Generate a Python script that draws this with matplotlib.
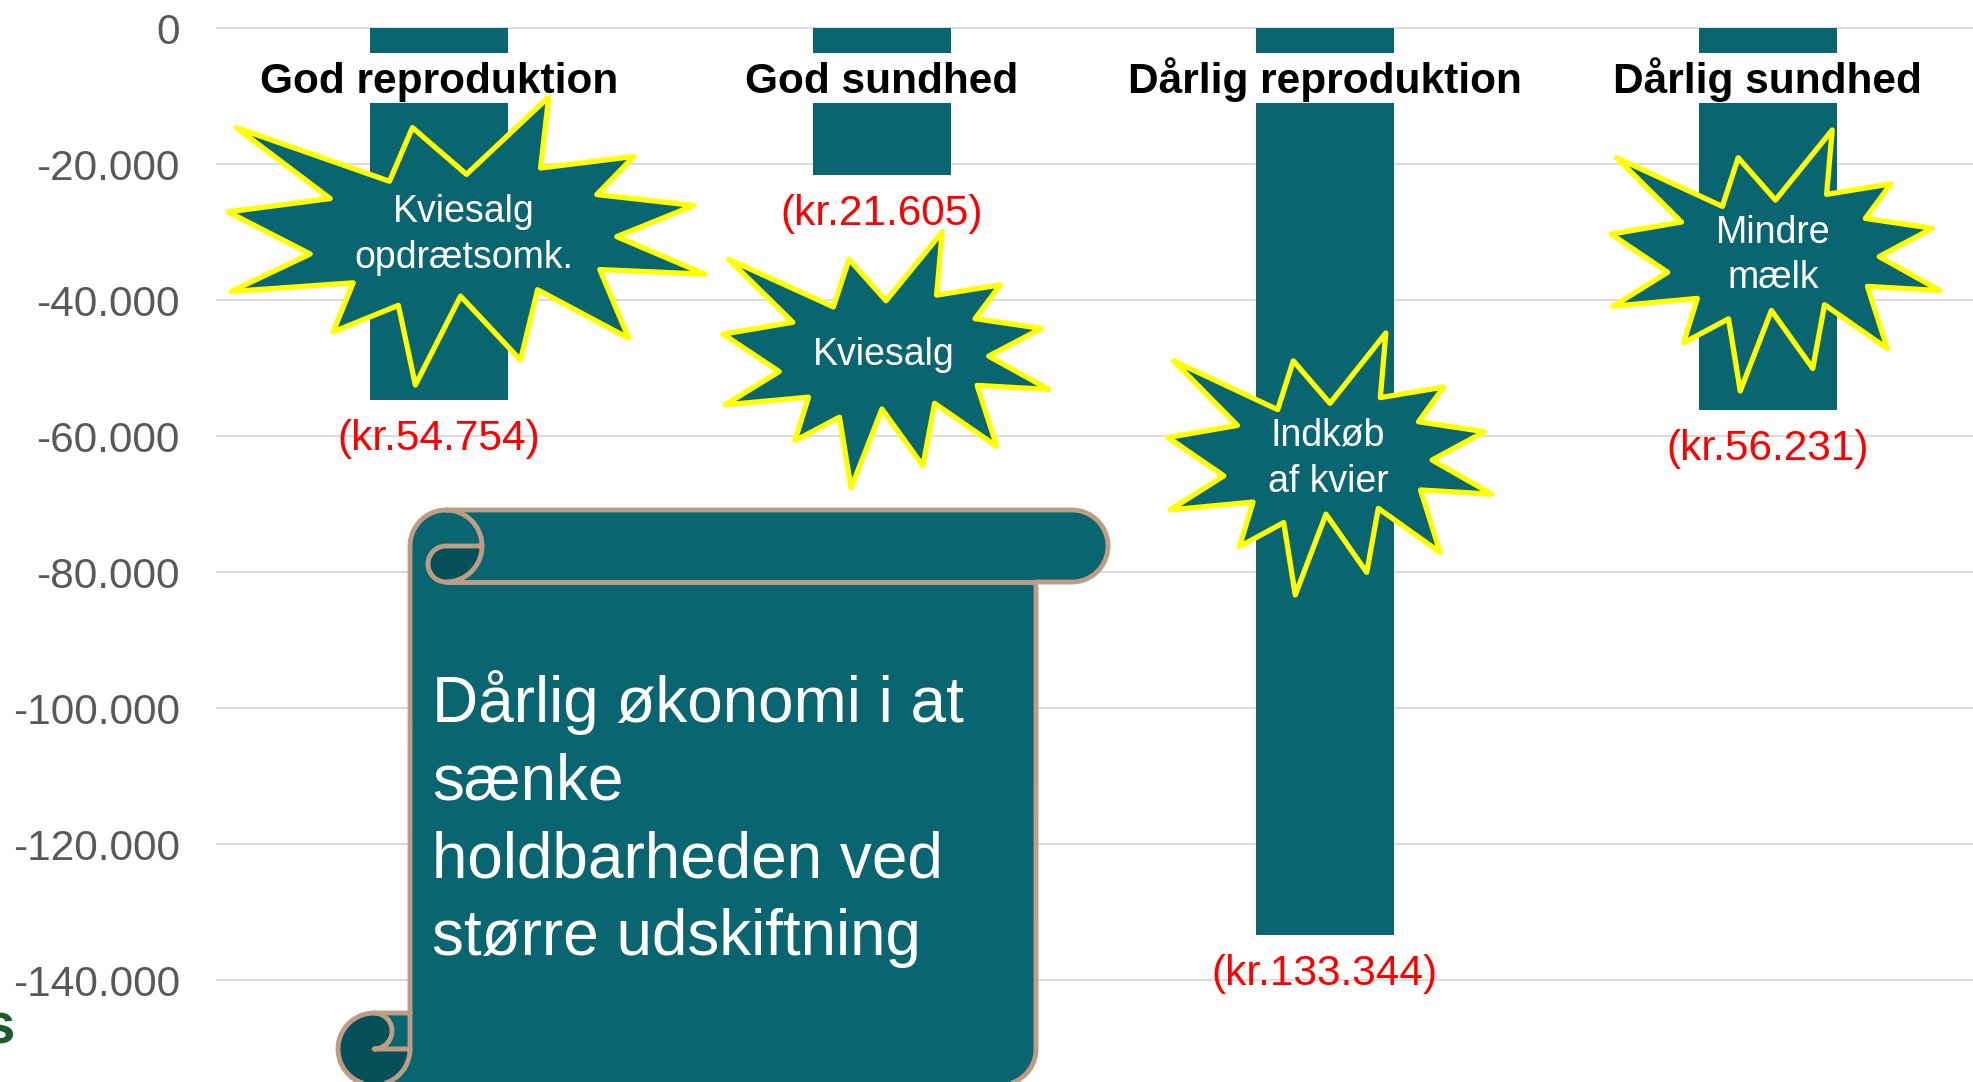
import matplotlib.pyplot as plt
import numpy as np
from matplotlib.patches import Polygon

plt.rcParams['font.family'] = ['Liberation Sans', 'DejaVu Sans']

# --- data ---
kategorier = ["God reproduktion", "God sundhed", "Dårlig reproduktion", "Dårlig sundhed"]
vaerdier = [-54754, -21605, -133344, -56231]
etiketter = ["(kr.54.754)", "(kr.21.605)", "(kr.133.344)", "(kr.56.231)"]
y_ticks = [0, -20000, -40000, -60000, -80000, -100000, -120000, -140000]
y_labels = ["0", "-20.000", "-40.000", "-60.000", "-80.000", "-100.000", "-120.000", "-140.000"]
stjerne_tekst = ["Kviesalg\nopdrætsomk.", "Kviesalg", "Indkøb\naf kvier", "Mindre\nmælk"]
rulle_tekst = "Dårlig økonomi i at\nsænke\nholdbarheden ved\nstørre udskiftning"

TEAL = '#096570'
DARK = '#065059'
TAN = '#BF9D84'

W, H = 1973, 1082
fig = plt.figure(figsize=(W / 100, H / 100), dpi=100)

# === hovedgraf ===
ax = fig.add_axes([216 / W, 0, 1 - 216 / W, 1])
x = np.arange(len(kategorier))
ax.bar(x, vaerdier, width=0.31, color=TEAL, zorder=2)
ax.set_xlim(-0.503, 3.463)
ax.set_ylim(-155000, 4118)
ax.set_yticks(y_ticks)
ax.set_yticklabels(y_labels, fontsize=30.5, color='#595959')
ax.tick_params(axis='y', length=0, pad=26)
ax.set_xticks([])
ax.grid(axis='y', color='#D9D9D9', lw=1.3)
ax.set_axisbelow(True)
for s in ax.spines.values():
    s.set_visible(False)

# hvidt bånd bag kategorinavnene
ax.axhspan(-11029, -3676, color='white', lw=0, zorder=2.5)
for i, kat in enumerate(kategorier):
    ax.text(i, -9559, kat, ha='center', va='baseline', fontsize=30.5, fontweight='bold', zorder=3)

for i, (v, lbl) in enumerate(zip(vaerdier, etiketter)):
    ax.annotate(lbl, (i, v), xytext=(0, -39), textcoords='offset pixels',
                ha='center', va='center', color='red', fontsize=30.5)

# === figurer oven på (pixel-koordinater) ===
ov = fig.add_axes([0, 0, 1, 1], zorder=5)
ov.set_xlim(0, W)
ov.set_ylim(H, 0)
ov.patch.set_visible(False)
ov.axis('off')


def arc(cx, cy, r, a0, a1, n=40):
    a = np.radians(np.linspace(a0, a1, n))
    return np.column_stack([cx + r * np.cos(a), cy + r * np.sin(a)])


# eksplosion (PowerPoint "irregularSeal1")
SEAL = np.array([[10800, 5800], [14522, 0], [14155, 5325], [18380, 4457], [16702, 7315],
                 [21097, 8137], [17607, 10475], [21600, 13290], [16837, 12942], [18145, 18095],
                 [14020, 14457], [13247, 19737], [10532, 14935], [8485, 21600], [7715, 15627],
                 [4762, 17617], [5667, 13937], [135, 14587], [3722, 11775], [0, 8615],
                 [4627, 7617], [370, 2295], [7312, 6320], [8352, 2295]]) / 21600.0

stjerne_box = [(228, 97, 477, 288), (723, 232, 326, 256), (1168, 333, 324, 262), (1611, 130, 329, 261)]
for (x0, y0, w, h), txt in zip(stjerne_box, stjerne_tekst):
    pts = SEAL * [w, h] + [x0, y0]
    ov.add_patch(Polygon(pts, closed=True, fc=TEAL, ec='#FFFF00', lw=3.8, joinstyle='round', zorder=3))
    ov.text(x0 + 0.494 * w, y0 + 0.469 * h + 3, txt, ha='center', va='center', color='white',
            fontsize=27, linespacing=1.35, zorder=4)

# rulle (PowerPoint "verticalScroll")
sx, sy, sw, sh = 338, 510, 770, 575
ch = 72
ch2, ch4 = ch / 2, ch / 4
x3, x4 = ch + ch2, 2 * ch
x6, x7 = sw - ch, sw - ch2
x5 = x6 - ch2
y3, y4, b = sh - ch, sh - ch2, sh

body = np.vstack([[(ch, y3), (ch, ch2)], arc(x3, ch2, ch2, 180, 270),
                  [(x7, 0)], arc(x7, ch2, ch2, 270, 450),
                  [(x6, ch), (x6, y4)], arc(x5, y4, ch2, 0, 90),
                  [(ch2, b)], arc(ch2, y4, ch2, 90, 270), [(ch, y3)]])
top_dark = np.vstack([arc(x3, ch2, ch2, 0, 90), arc(x3, ch2 + ch4, ch4, 90, 270)])
bot_dark = np.vstack([arc(ch2, y4, ch2, 270, 90), arc(ch2, y4, ch2, 90, 0),
                      [(ch2, y4)], arc(ch2, y3 + ch4, ch4, 90, -90)])
off = np.array([sx, sy])
ov.add_patch(Polygon(body + off, closed=True, fc=TEAL, ec='none', zorder=1))
ov.add_patch(Polygon(top_dark + off, closed=True, fc=DARK, ec='none', zorder=1.1))
ov.add_patch(Polygon(bot_dark + off, closed=True, fc=DARK, ec='none', zorder=1.1))

streger = [body,
           np.vstack([arc(x3, ch2, ch2, -90, 90), arc(x3, ch2 + ch4, ch4, 90, 270), [(x4, ch2)]]),
           np.array([(x6, ch), (x3, ch)]),
           np.vstack([arc(ch2, y3 + ch4, ch4, -90, 90), [(ch, y4)]]),
           np.vstack([arc(ch2, y4, ch2, 90, 0), [(ch, y3)]])]
for s in streger:
    p = s + off
    ov.plot(p[:, 0], p[:, 1], color=TAN, lw=3.5, solid_joinstyle='round',
            solid_capstyle='round', zorder=1.2)

# grundlinje for sidste linje
ov.text(432, 955, rulle_tekst, ha='left', va='baseline', color='white', fontsize=46,
        linespacing=1.375, zorder=2)

# logo-rest nederst til venstre
ov.text(15, 1043, "s", ha='right', va='baseline', fontsize=42, fontweight='bold',
        color='#1E5B2C', zorder=2)

fig.savefig("out.png", dpi=100)
